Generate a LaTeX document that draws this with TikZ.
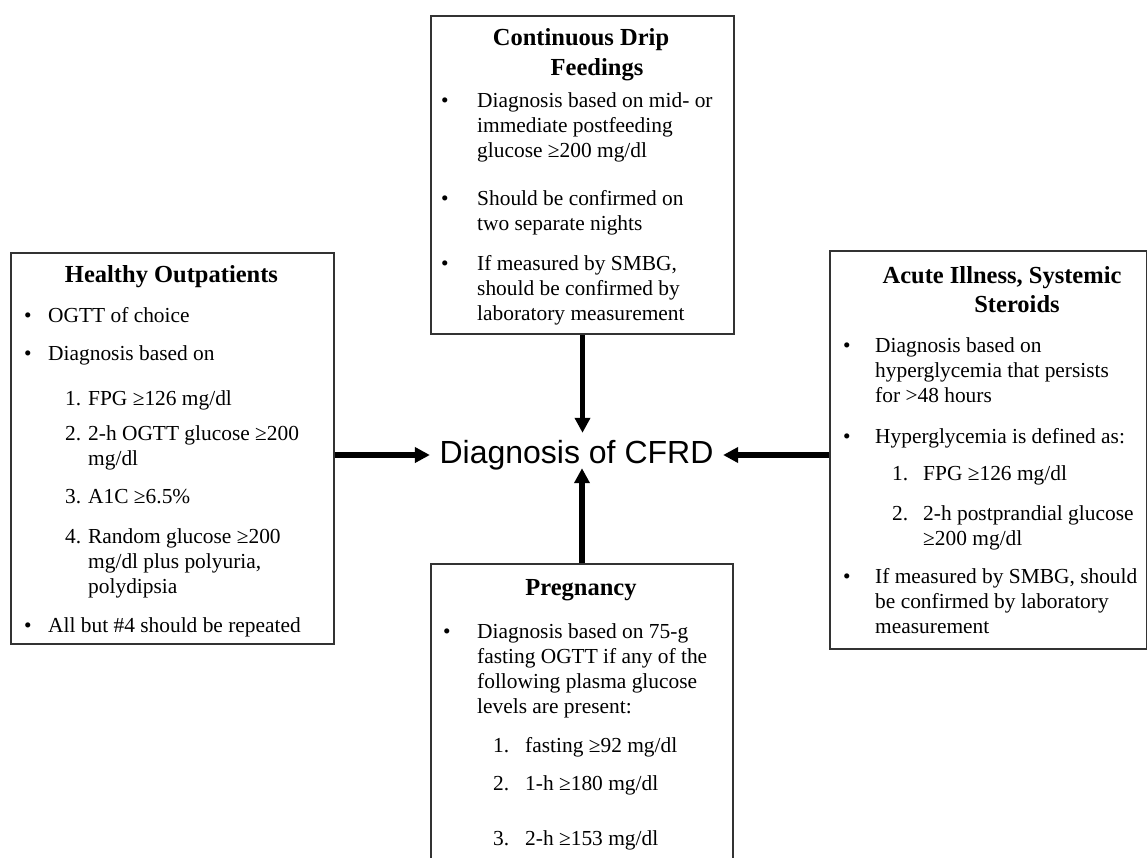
\documentclass[tikz,border=0pt]{standalone}
\usepackage{fontspec}
\setmainfont{Liberation Serif}
\newfontfamily\cfrdsans{Liberation Sans}
\usetikzlibrary{arrows.meta}
\newcommand{\bodyf}{\fontsize{21.4}{25}\selectfont}
\newcommand{\titlef}{\fontsize{24.5}{30}\selectfont\bfseries}
% name, mark x, mark, text x, baseline y, text width, text
\newcommand{\bl}[7]{\node[itemmark] (#1m) at (#2,#5) {#3};
  \node[para] (#1) at (#4,#5) {\parbox[t]{#6pt}{\raggedright #7}};}
\tikzset{
  box/.style={draw=black!80, line width=2pt, anchor=north west, inner sep=0pt},
  para/.style={anchor=base west, inner sep=0pt, font=\bodyf},
  itemmark/.style={anchor=base west, inner sep=0pt, font=\bodyf},
  ttl/.style={anchor=base, inner sep=0pt, font=\titlef},
  arr/.style={-{Triangle[length=15pt,width=15pt]}, line width=5.5pt, black},
}
\begin{document}
\begin{tikzpicture}[x=1pt,y=-1pt]
\clip (0,0) rectangle (1147,857);
\fill[white] (0,0) rectangle (1147,857);

% boxes
\node[box, minimum width=303pt, minimum height=318pt] (tbox) at (430,15) {};
\node[box, minimum width=323pt, minimum height=391pt] (lbox) at (10,252) {};
\node[box, minimum width=316.5pt, minimum height=398pt] (rbox) at (829,250) {};
\node[box, minimum width=302pt, minimum height=320pt] (pbox) at (430,563) {};

% top box
\node[ttl] (t1) at (581,45) {Continuous Drip};
\node[ttl] (t2) at (597,75) {Feedings};
\bl{ta}{441}{\textbullet}{477}{107}{252}{Diagnosis based on mid- or\\immediate postfeeding\\glucose ≥200 mg/dl}
\bl{tb}{441}{\textbullet}{477}{205}{252}{Should be confirmed on\\two separate nights}
\bl{tc}{441}{\textbullet}{477}{270}{252}{If measured by SMBG,\\should be confirmed by\\laboratory measurement}

% left box
\node[ttl] (l0) at (171.5,282) {Healthy Outpatients};
\bl{la}{24}{\textbullet}{48}{322}{282}{OGTT of choice}
\bl{lb}{24}{\textbullet}{48}{360}{282}{Diagnosis based on}
\bl{lc}{65}{1.}{88}{405}{242}{FPG ≥126 mg/dl}
\bl{ld}{65}{2.}{88}{440}{242}{2-h OGTT glucose ≥200\\mg/dl}
\bl{le}{65}{3.}{88}{503}{242}{A1C ≥6.5\%}
\bl{lf}{65}{4.}{88}{543}{242}{Random glucose ≥200\\mg/dl plus polyuria,\\polydipsia}
\bl{lg}{24}{\textbullet}{48}{632}{282}{All but \#4 should be repeated}

% right box
\node[ttl] (r1) at (1002,283) {Acute Illness, Systemic};
\node[ttl] (r2) at (1017,312) {Steroids};
\bl{ra}{843}{\textbullet}{875}{352}{268}{Diagnosis based on\\hyperglycemia that persists\\for >48 hours}
\bl{rb}{843}{\textbullet}{875}{443}{268}{Hyperglycemia is defined as:}
\bl{rc}{892}{1.}{923}{480}{220}{FPG ≥126 mg/dl}
\bl{rd}{892}{2.}{923}{520}{220}{2-h postprandial glucose\\≥200 mg/dl}
\bl{re}{843}{\textbullet}{875}{583}{268}{If measured by SMBG, should\\be confirmed by laboratory\\measurement}

% pregnancy box
\node[ttl] (p0) at (581,595) {Pregnancy};
\bl{pa}{443}{\textbullet}{477}{638}{252}{Diagnosis based on 75-g\\fasting OGTT if any of the\\following plasma glucose\\levels are present:}
\bl{pb}{493}{1.}{525}{752}{204}{fasting ≥92 mg/dl}
\bl{pc}{493}{2.}{525}{790}{204}{1-h ≥180 mg/dl}
\bl{pd}{493}{3.}{525}{845}{204}{2-h ≥153 mg/dl}

% centre
\node[font=\cfrdsans\fontsize{32}{32}\selectfont, inner xsep=9.5pt, inner ysep=0pt,
      text height=30pt, text depth=5pt] (cfrd) at (576.5,450.5) {Diagnosis of CFRD};
\coordinate (cl) at ([yshift=-4.5pt]cfrd.west);
\coordinate (cr) at ([yshift=-4.5pt]cfrd.east);

% arrows
\draw[arr] (tbox.south) -- (tbox.south |- cfrd.north);
\draw[arr] (pbox.north) -- (pbox.north |- cfrd.south);
\draw[arr] (lbox.east |- cl) -- (cl);
\draw[arr] (rbox.west |- cr) -- (cr);
\end{tikzpicture}
\end{document}
